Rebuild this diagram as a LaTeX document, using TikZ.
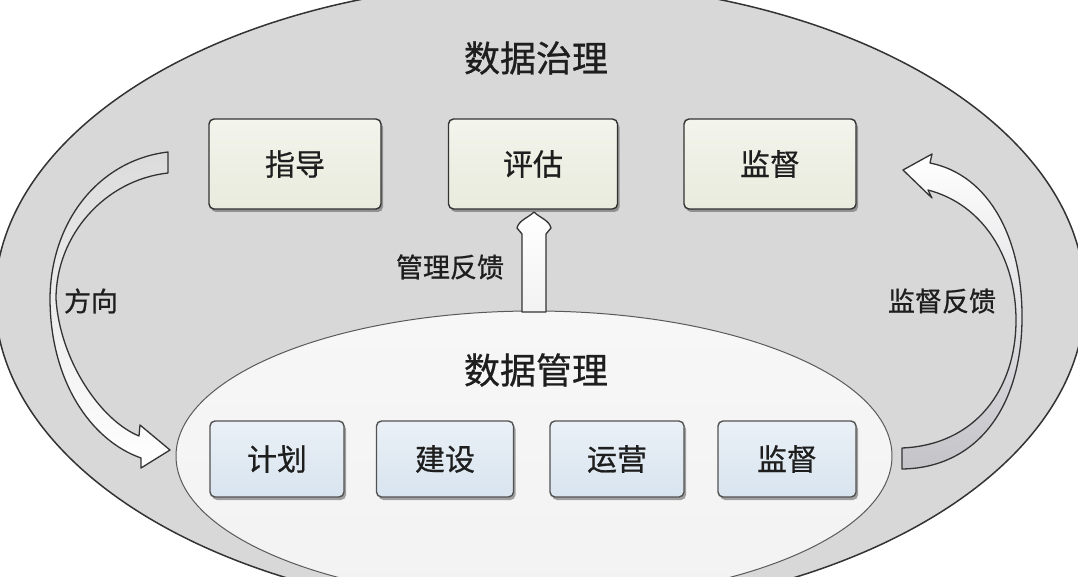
\documentclass[tikz,border=0pt]{standalone}
\usepackage{fontspec}
\newfontfamily\cjk[FakeBold=0.7]{Noto Sans CJK SC}
\usetikzlibrary{shadows}
\definecolor{outerfill}{HTML}{D8D8D8}
\definecolor{innerfill}{HTML}{F2F2F2}
\definecolor{edgecol}{HTML}{333333}
\definecolor{txtcol}{HTML}{1E1E1E}
\definecolor{greenbox}{HTML}{F3F4EC}
\definecolor{greenboxb}{HTML}{E8EBDD}
\definecolor{bluebox}{HTML}{EAF0F6}
\definecolor{blueboxb}{HTML}{D8E4EF}
\tikzset{
  govbox/.style={draw=edgecol, line width=1.4pt, rounded corners=5pt,
    top color=greenbox, bottom color=greenboxb,
    minimum width=170pt, minimum height=90pt, inner sep=0pt,
    font=\cjk\fontsize{30}{30}\selectfont, text=txtcol,
    drop shadow={shadow xshift=2pt, shadow yshift=-3pt, fill=black!70, opacity=0.5}},
  mgmtbox/.style={draw=edgecol!85, line width=1.4pt, rounded corners=5pt,
    top color=bluebox, bottom color=blueboxb,
    minimum width=135pt, minimum height=76pt, inner sep=0pt,
    font=\cjk\fontsize{30}{30}\selectfont, text=txtcol,
    drop shadow={shadow xshift=2pt, shadow yshift=-3pt, fill=black!70, opacity=0.5}},
  title/.style={font=\cjk\fontsize{36}{36}\selectfont, text=txtcol},
  lbl/.style={font=\cjk\fontsize{27}{27}\selectfont, text=txtcol},
  blockarrow/.style={draw=edgecol, line width=1.3pt, line join=round}
}
\begin{document}
\begin{tikzpicture}[x=1pt,y=-1pt]
\useasboundingbox (0,0) rectangle (1078,577);
\fill[white] (0,0) rectangle (1078,577);
\begin{scope}
\clip (0,0) rectangle (1078,577);
% outer ellipse (data governance)
\draw[edgecol, line width=1.5pt, fill=outerfill] (540,298) ellipse [x radius=545, y radius=316];
% inner ellipse (data management)
\draw[gray!70!black, line width=1pt, top color=innerfill!60!white, bottom color=innerfill] (534,456) ellipse [x radius=358, y radius=145];
\end{scope}

% titles
\node[title] (gov) at (536,58) {数据治理};
\node[title] (mgmt) at (536,370) {数据管理};

% governance boxes
\node[govbox, minimum width=172pt] (zhidao) at (295,164) {指导};
\node[govbox, minimum width=169pt] (pinggu) at (533,164) {评估};
\node[govbox, minimum width=172pt] (jiandu1) at (770,164) {监督};

% management boxes
\node[mgmtbox, minimum width=134pt] (jihua) at (277,459) {计划};
\node[mgmtbox, minimum width=137pt] (jianshe) at (445,459) {建设};
\node[mgmtbox, minimum width=134pt] (yunying) at (617,459) {运营};
\node[mgmtbox, minimum width=138pt] (jiandu2) at (787,459) {监督};

% labels
\node[lbl] (fangxiang) at (91,301) {方向};
\node[lbl] (glfk) at (450,267) {管理反馈};
\node[lbl] (jdfk) at (942,301) {监督反馈};

% management feedback arrow (up to 评估)
\path[blockarrow, top color=white, bottom color=gray!10]
  (522,312) -- (522,234) -- (517,228)
  .. controls (519,220) and (528,218) .. (534,212)
  .. controls (540,218) and (549,220) .. (551,228)
  -- (546,234) -- (546,312) -- cycle;

% direction arrow (left, from 指导 down to management)
\path[blockarrow, top color=gray!28, bottom color=white]
  (168,152) .. controls (100,160) and (51,220) .. (50,298)
  .. controls (50,380) and (90,440) .. (141,458)
  -- (141,468) -- (170,450) -- (140,425) -- (139,436)
  .. controls (100,420) and (60,360) .. (56,299)
  .. controls (56,235) and (105,180) .. (168,173) -- cycle;

% supervision feedback arrow (right, from management up to 监督)
\path[blockarrow, top color=white, bottom color=gray!40!blue!8!gray!45]
  (902,448) .. controls (975,445) and (1016,390) .. (1016,320)
  .. controls (1016,260) and (985,205) .. (928,190)
  -- (932,198) -- (903,170) -- (932,154) -- (930,163)
  .. controls (990,175) and (1023,240) .. (1022,320)
  .. controls (1021,410) and (975,468) .. (902,469) -- cycle;
\end{tikzpicture}
\end{document}
